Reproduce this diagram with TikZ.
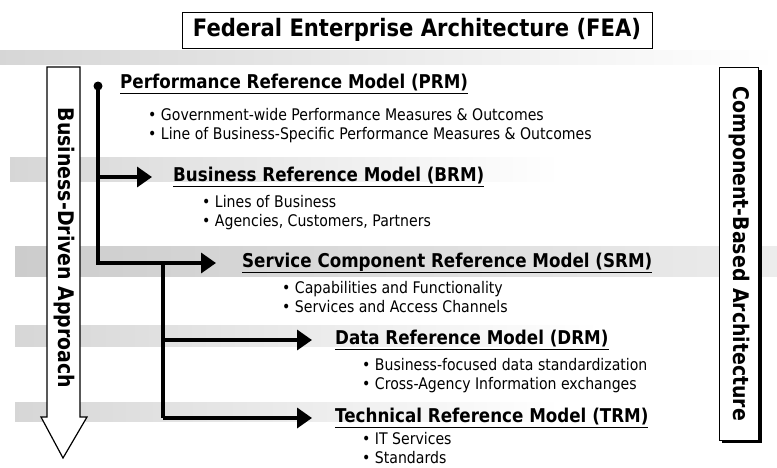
\documentclass[tikz,border=0pt]{standalone}
\usepackage{fontspec}
\setmainfont{DejaVu Sans}[FakeStretch=0.88]
\usetikzlibrary{arrows.meta}

\tikzset{
  band/.style={left color=gray!32, right color=white, draw=none},
  head/.style={anchor=west, inner sep=0pt, font=\fontsize{19}{22}\selectfont\bfseries},
  items/.style={anchor=base west, inner sep=0pt, align=left, font=\fontsize{16}{19}\selectfont},
  side/.style={font=\fontsize{21.5}{24}\selectfont\bfseries, rotate=-90},
  arr/.style={line width=3.5pt, -{Triangle[length=15pt, width=20pt]}},
  spine/.style={line width=3.5pt}
}

\begin{document}
\begin{tikzpicture}[x=1pt, y=-1pt]
\useasboundingbox (0,0) rectangle (777,467);

% grey bands behind the rows
\fill [band] (0,50) rectangle (777,64);
\fill [band] (10,157) rectangle (560,181);
\fill [band, left color=gray!40, right color=gray!15] (15,246) rectangle (777,276);
\fill [band] (15,325) rectangle (600,346);
\fill [band] (15,402) rectangle (560,421);

\node (fea) [draw, line width=0.8pt, minimum width=470pt, minimum height=36pt,
  font=\fontsize{24}{26}\selectfont\bfseries] at (417,30) {Federal Enterprise Architecture (FEA)};

% left arrow
\draw [line width=1.2pt, fill=white] (47,67) -- (80,67) -- (80,417) -- (87,417)
  -- (63,458) -- (41,417) -- (47,417) -- cycle;
\node (bda) [side] at (64,248) {Business-Driven Approach};

% right box
\fill (722,70) rectangle (762,443);
\node (cba) [draw, line width=0.8pt, fill=white, minimum width=39pt, minimum height=373pt,
  inner sep=0pt] at (739,254) {};
\node [side] at (cba.center) {Component-Based Architecture};

% headers
\node (prm) [head] at (120,84) {\underline{Performance Reference Model (PRM)}};
\node (brm) [head] at (173,177) {\underline{Business Reference Model (BRM)}};
\node (srm) [head] at (242,263) {\underline{Service Component Reference Model (SRM)}};
\node (drm) [head] at (335,340) {\underline{Data Reference Model (DRM)}};
\node (trm) [head] at (335,418) {\underline{Technical Reference Model (TRM)}};

% bullet lists (anchored on the last line)
\node (prmi) [items] at (148,139) {• Government-wide Performance Measures \& Outcomes\\
  • Line of Business-Specific Performance Measures \& Outcomes};
\node (brmi) [items] at (202,226) {• Lines of Business\\• Agencies, Customers, Partners};
\node (srmi) [items] at (282,312) {• Capabilities and Functionality\\• Services and Access Channels};
\node (drmi) [items] at (362,389) {• Business-focused data standardization\\
  • Cross-Agency Information exchanges};
\node (trmi) [items] at (362,463) {• IT Services\\• Standards};

% connectors
\node (dot) [circle, fill, inner sep=0pt, minimum size=9pt] at (98,86) {};
\coordinate (j1) at (98,177);
\coordinate (j2) at (98,263);
\coordinate (k1) at (163,263);
\coordinate (k2) at (163,340);
\coordinate (k3) at (163,418);

\draw [spine] (dot.center) -- (j2) -- (k1);
\draw [spine] (k1) -- (k3);
\draw [arr] (j1) -- ([xshift=-21pt]brm.west);
\draw [arr] (k1) -- ([xshift=-26pt]srm.west);
\draw [arr] (k2) -- ([xshift=-23pt]drm.west);
\draw [arr] (k3) -- ([xshift=-23pt]trm.west);

\end{tikzpicture}
\end{document}
